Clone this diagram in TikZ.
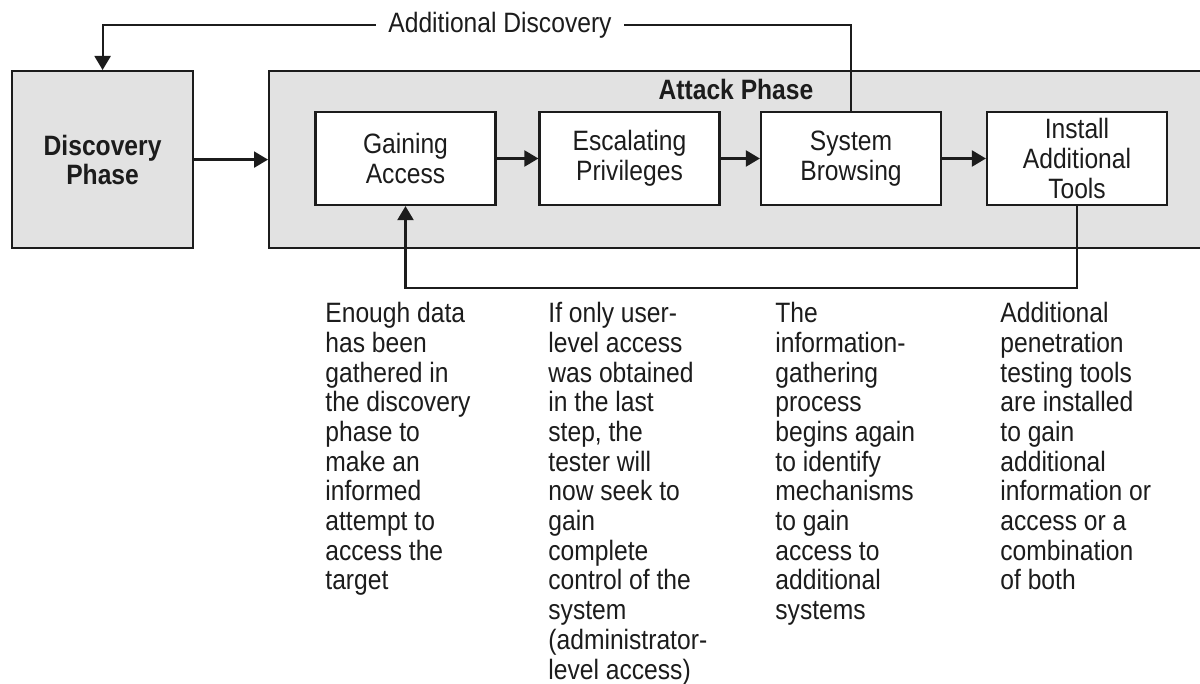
\documentclass[tikz,border=0pt]{standalone}
\usepackage{fontspec}
\setmainfont{Liberation Sans}[FakeStretch=0.88]
\usetikzlibrary{arrows.meta}
\definecolor{ink}{RGB}{28,28,28}
\definecolor{panel}{RGB}{226,226,226}
\begin{document}
\begin{tikzpicture}[x=0.5pt,y=-0.5pt,
  txt/.style={font=\fontsize{14}{14.85}\selectfont, text=ink},
  line/.style={draw=ink, line width=1.1pt},
  arr/.style={line, -{Triangle[length=7pt,width=8pt]}},
  phasebox/.style={line, fill=panel},
  stepbox/.style={line, fill=white, minimum width=90pt, minimum height=46.5pt, inner sep=0pt, txt, align=center},
  desc/.style={txt, align=left, anchor=north west, inner sep=0pt}
]
\useasboundingbox (0,0) rectangle (1200,684);
\fill[white] (0,0) rectangle (1200,684);
\clip (0,0) rectangle (1200,684);

% phase boxes
\node[phasebox, minimum width=90.5pt, minimum height=88.5pt, inner sep=0pt, anchor=north west,
      txt, font=\fontsize{14}{14.6}\selectfont\bfseries, align=center] (dp) at (11,70) {Discovery\\Phase};
\node[phasebox, minimum width=470pt, minimum height=88.5pt, inner sep=0pt, anchor=north west] (ap) at (268,70) {};
\node[txt, font=\fontsize{14}{14.85}\selectfont\bfseries, anchor=base] (apl) at (736,100) {Attack Phase};

% steps
\node[stepbox] (ga) at (405.5,158.5) {Gaining\\Access};
\node[stepbox] (ep) at (629.5,158.5) {Escalating\\Privileges};
\node[stepbox] (sb) at (851,158.5) {System\\Browsing};
\node[stepbox] (it) at (1077,158.5) {Install\\Additional\\Tools};

% main flow
\draw[arr] (dp.east) -- (dp.east -| ap.west);
\draw[arr] (ga) -- (ep);
\draw[arr] (ep) -- (sb);
\draw[arr] (sb) -- (it);

% additional discovery loop
\node[txt, inner xsep=6pt, inner ysep=0pt] (ad) at (500,25) {Additional Discovery};
\draw[line] (sb.north) |- (ad.east);
\draw[arr] (ad.west) -| (dp.north);

% feedback loop
\coordinate (fb) at (1077,288);
\draw[arr] (it.south) -- (fb) -| (ga.south);

% descriptions
\node[desc] (d1) at (325,302) {Enough data\\has been\\gathered in\\the discovery\\phase to\\make an\\informed\\attempt to\\access the\\target};
\node[desc] (d2) at (548,302) {If only user-\\level access\\was obtained\\in the last\\step, the\\tester will\\now seek to\\gain\\complete\\control of the\\system\\(administrator-\\level access)};
\node[desc] (d3) at (775,302) {The\\information-\\gathering\\process\\begins again\\to identify\\mechanisms\\to gain\\access to\\additional\\systems};
\node[desc] (d4) at (1000,302) {Additional\\penetration\\testing tools\\are installed\\to gain\\additional\\information or\\access or a\\combination\\of both};
\end{tikzpicture}
\end{document}
